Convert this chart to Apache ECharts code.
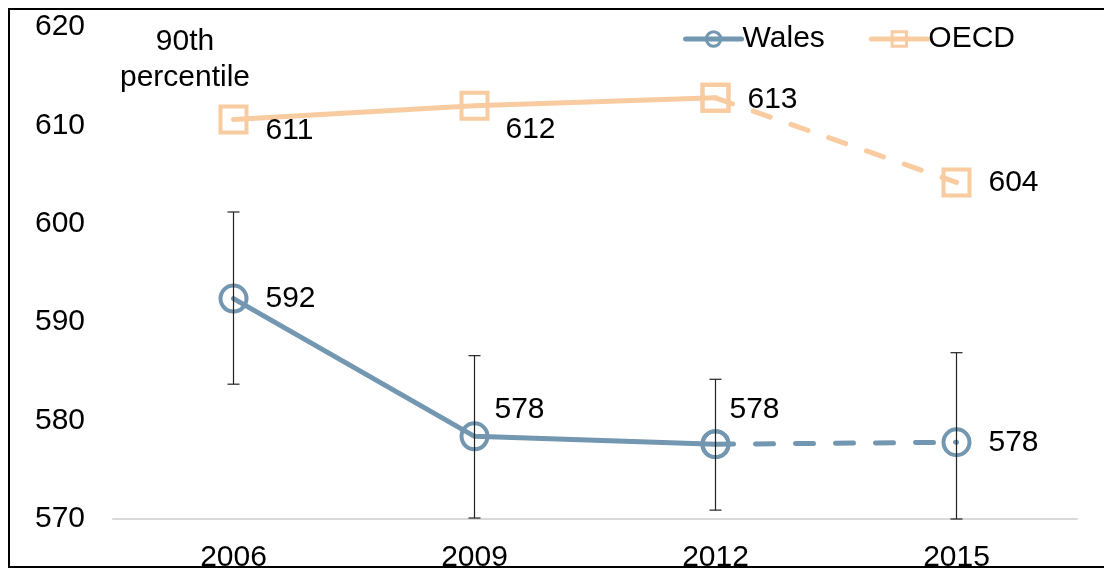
<!DOCTYPE html>
<html>
<head>
<meta charset="utf-8">
<script src="https://cdn.jsdelivr.net/npm/echarts@6/dist/echarts.min.js"></script>
<style>
  html, body { margin: 0; padding: 0; background: #fff; }
  #el { width: 1104px; height: 570px; }
</style>
</head>
<body>
<div id="el"></div>
<script>
// data
const years = ['2006', '2009', '2012', '2015'];
const wales = [592.4, 578.4, 577.6, 577.8];
const oecd = [610.6, 612.0, 612.8, 604.2];
const walesLow = [583.7, 570.1, 570.9, 570.0];
const walesHigh = [601.2, 586.6, 584.2, 586.9];
const yMin = 570, yMax = 620, yStep = 10;

// label nudges (style only)
const walesLabelOffset = [[0, 0], [-12, -27], [-18, -34], [0, 0]];
const oecdLabelOffset = [[0, 11], [-1, 24], [0, 2], [0, 0]];

const FONT = "'Liberation Sans', Arial, sans-serif";
const FS = 30;
const WALES_COLOR = '#7397b0';
const OECD_COLOR = '#f9cba0';

// solid part = up to 2012, dashed part = 2012 -> 2015 (labels only on its last point)
let part = (arr, offsets, from, to, labelFrom) => arr.map((v, i) => {
    if (i < from || i > to) return '-';
    return { value: v, label: { show: i >= labelFrom, offset: offsets[i] } };
});

let lineSeries = (name, arr, offsets, color, symbol, dashed) => ({
    name: name,
    type: 'line',
    data: dashed ? part(arr, offsets, 2, 3, 3) : part(arr, offsets, 0, 2, 0),
    symbol: symbol,
    symbolSize: 26,
    showAllSymbol: true,
    connectNulls: false,
    lineStyle: { color: color, width: 5, type: dashed ? [18, 22] : 'solid', cap: 'round' },
    itemStyle: { color: 'rgba(255,255,255,0)', borderColor: color, borderWidth: 4 },
    label: {
        show: true,
        position: 'right',
        distance: 17,
        color: '#000',
        fontSize: FS,
        fontFamily: FONT,
        formatter: p => Math.round(p.value)
    },
    emphasis: { disabled: true },
    z: dashed ? 3 : 4
});

let chart = () => {
    let mychart = echarts.init(document.getElementById('el'));
    let option = {
        animation: false,
        textStyle: { fontFamily: FONT },
        graphic: [
            {
                type: 'rect',
                shape: { x: 9, y: 9, width: 1200, height: 558 },
                style: { fill: 'none', stroke: '#000', lineWidth: 2 },
                z: 0
            },
            {
                type: 'text',
                x: 185,
                y: 24,
                style: {
                    text: '90th\npercentile',
                    fontSize: FS,
                    fontFamily: FONT,
                    lineHeight: 36,
                    fill: '#000',
                    align: 'center'
                }
            }
        ],
        legend: {
            data: ['Wales', 'OECD'],
            right: 84,
            top: 19,
            itemWidth: 56,
            itemHeight: 18,
            itemGap: 44,
            lineStyle: { width: 5 },
            itemStyle: { borderWidth: 3 },
            textStyle: { fontSize: FS, fontFamily: FONT, color: '#000', padding: [0, 0, 0, -4] }
        },
        grid: { left: 113, right: 27, top: 27, bottom: 51, containLabel: false, outerBoundsMode: 'none' },
        xAxis: {
            type: 'category',
            data: years,
            axisLine: { lineStyle: { color: '#d9d9d9', width: 2 } },
            axisTick: { show: false },
            axisLabel: { fontSize: FS, color: '#000', margin: 24, fontFamily: FONT }
        },
        yAxis: {
            type: 'value',
            min: yMin,
            max: yMax,
            interval: yStep,
            axisLine: { show: false },
            axisTick: { show: false },
            splitLine: { show: false },
            axisLabel: { fontSize: FS, color: '#000', margin: 28, fontFamily: FONT }
        },
        series: [
            {
                name: 'error',
                type: 'custom',
                data: years.map((y, i) => [i, walesLow[i], walesHigh[i]]),
                renderItem: (params, api) => {
                    let lo = api.coord([api.value(0), api.value(1)]);
                    let hi = api.coord([api.value(0), api.value(2)]);
                    let cap = 6;
                    let st = { stroke: '#222', lineWidth: 1.2 };
                    return {
                        type: 'group',
                        children: [
                            { type: 'line', shape: { x1: hi[0], y1: hi[1], x2: lo[0], y2: lo[1] }, style: st },
                            { type: 'line', shape: { x1: hi[0] - cap, y1: hi[1], x2: hi[0] + cap, y2: hi[1] }, style: st },
                            { type: 'line', shape: { x1: lo[0] - cap, y1: lo[1], x2: lo[0] + cap, y2: lo[1] }, style: st }
                        ]
                    };
                },
                z: 5,
                silent: true
            },
            lineSeries('Wales', wales, walesLabelOffset, WALES_COLOR, 'circle', false),
            lineSeries('Wales', wales, walesLabelOffset, WALES_COLOR, 'circle', true),
            lineSeries('OECD', oecd, oecdLabelOffset, OECD_COLOR, 'rect', false),
            lineSeries('OECD', oecd, oecdLabelOffset, OECD_COLOR, 'rect', true)
        ]
    };
    option && mychart.setOption(option);
}

chart()
</script>
</body>
</html>
